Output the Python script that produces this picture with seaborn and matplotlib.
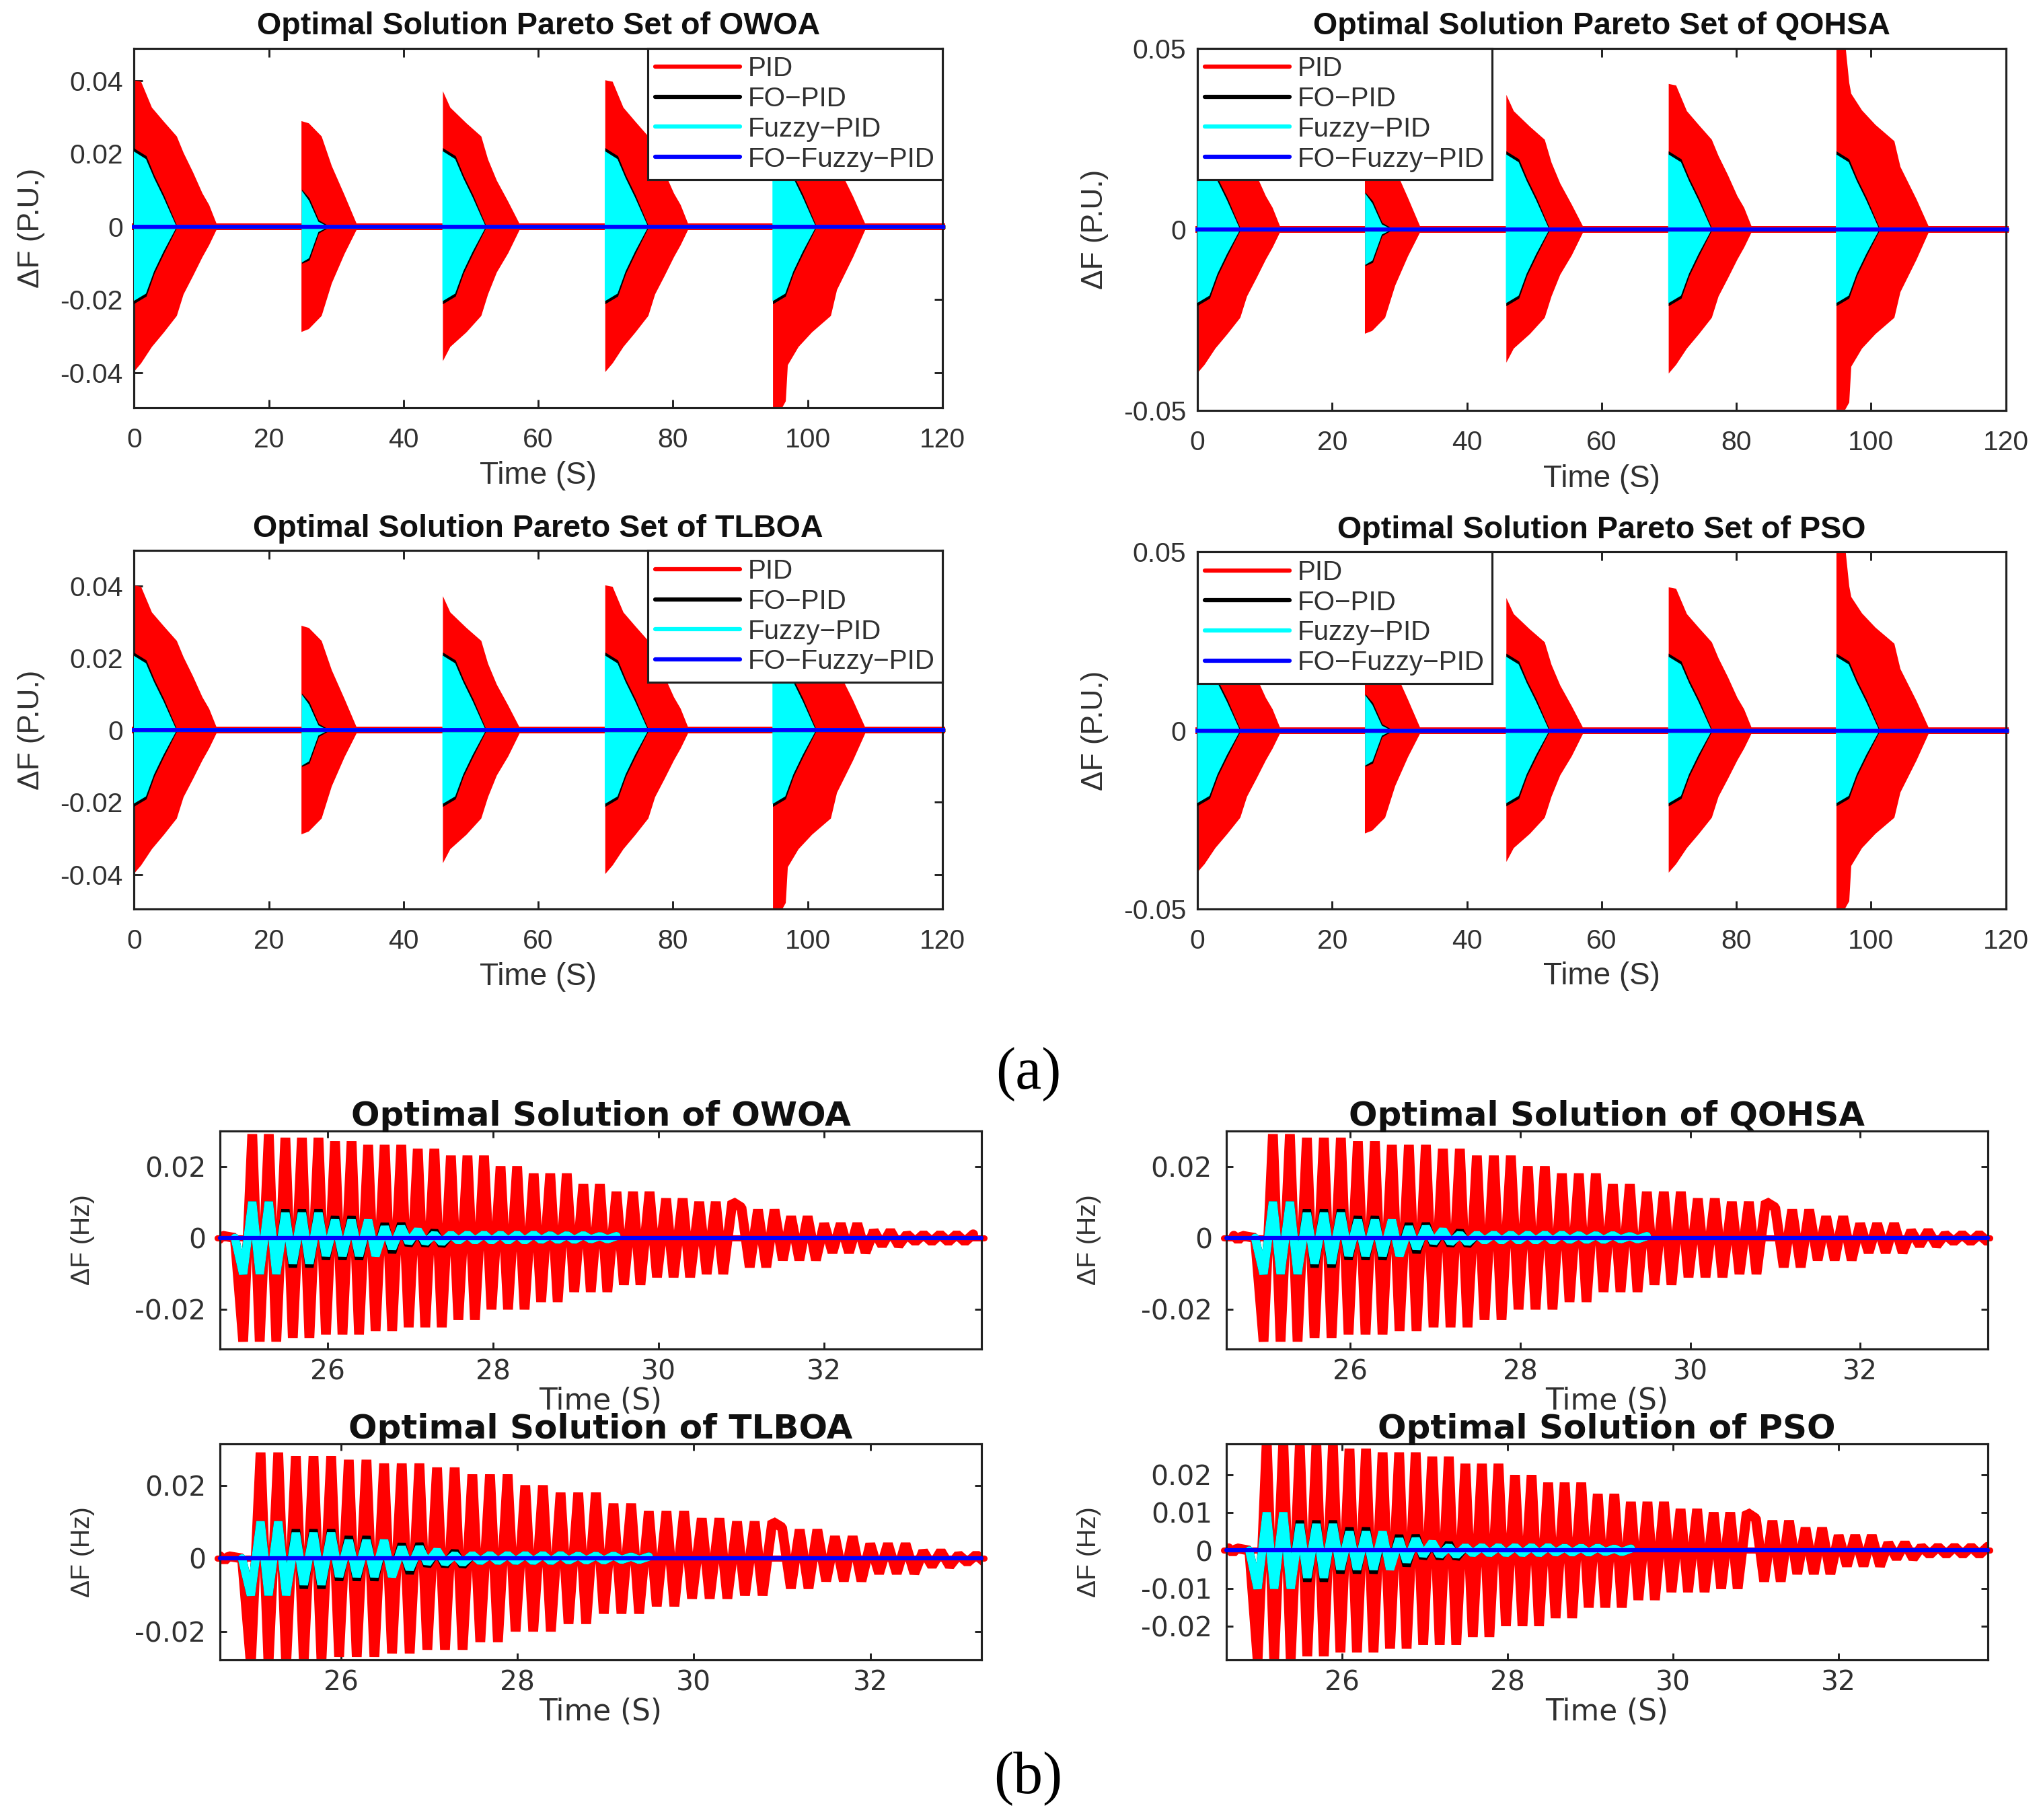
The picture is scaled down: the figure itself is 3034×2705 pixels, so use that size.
import numpy as np
import pandas as pd
import matplotlib
matplotlib.use('Agg')
import matplotlib.pyplot as plt
import seaborn as sns

# controllers
controllers = ['PID', 'FO\u2212PID', 'Fuzzy\u2212PID', 'FO\u2212Fuzzy\u2212PID']
ctrl_colors = ['#ff0000', '#000000', '#00ffff', '#0000ff']

# events in the Pareto panels, start times
event_starts = [-0.1, 24.8, 45.8, 69.9, 94.8]

# PID envelopes per event shape
pid_dt_a = [0, 1.1, 2.7, 4.5, 6.4, 7.4, 8.8, 10.2, 11.2, 12.4]
pid_hi_a = [.0402, .0398, .0327, .0288, .0248, .0203, .015, .0092, .006, .0004]
pid_lo_a = [-.0398, -.0374, -.0329, -.0289, -.0244, -.0185, -.0135, -.0083, -.005, -.0004]

pid_dt_b = [0, 1.1, 3.0, 4.5, 6.4, 8.3]
pid_hi_b = [.0290, .0284, .0248, .0167, .0087, .0004]
pid_lo_b = [-.0288, -.028, -.0244, -.0155, -.0074, -.0004]

pid_dt_c = [0, 1.1, 3.5, 5.7, 6.7, 8.0, 9.7, 11.5]
pid_hi_c = [.0372, .0327, .0284, .0248, .0185, .0127, .0069, .0004]
pid_lo_c = [-.0368, -.0329, -.0289, -.0244, -.0185, -.0125, -.0072, -.0004]

pid_dt_d = [0, 1.3, 1.9, 2.2, 3.8, 5.8, 8.6, 9.5, 11.9, 13.8]
pid_hi_d = [.0515, .0515, .0405, .0375, .0329, .0289, .0244, .0173, .0083, .0004]
pid_lo_d = [-.0498, -.0498, -.0478, -.0379, -.0329, -.0289, -.0244, -.0173, -.0083, -.0004]

# FO-PID envelopes
fo_dt_big = [0, 1.9, 3.1, 4.5, 6.4]
fo_hi_big = [.0216, .0194, .014, .0087, .0004]
fo_lo_big = [-.0212, -.0191, -.0128, -.0074, -.0004]
fo_dt_small = [0.1, 1.2, 2.6, 4.0]
fo_hi_small = [.0102, .0078, .0018, .0003]
fo_lo_small = [-.0101, -.0092, -.0018, -.0003]

# Fuzzy-PID envelopes
fz_hi_big = [.0208, .0186, .0134, .0081, .0002]
fz_lo_big = [-.0204, -.0183, -.0122, -.0068, -.0002]
fz_hi_small = [.0100, .0072, .0014, .0001]
fz_lo_small = [-.0098, -.0086, -.0014, -.0001]

# Peaks and troughs of the response after the 25 s step
pid_peak_t = [24.63, 24.73, 25.09, 25.29, 25.49, 25.69, 25.89, 26.09, 26.29, 26.49, 26.69, 26.89,
              27.09, 27.29, 27.49, 27.69, 27.89, 28.09, 28.29, 28.49, 28.69, 28.89,
              29.09, 29.29, 29.49, 29.69, 29.89, 30.09, 30.29, 30.49, 30.69, 30.89,
              31.0, 31.2, 31.4, 31.6, 31.8, 32.0, 32.2, 32.4, 32.6, 32.8, 33.0, 33.2, 33.4, 33.6, 33.8]
pid_peak_v = [.0006, .0006, .029, .029, .028, .028, .028, .027, .027, .026, .026, .026,
              .0249, .0249, .023, .023, .023, .02, .02, .018, .018, .018,
              .015, .015, .0129, .0129, .0129, .011, .011, .0101, .0101, .0101,
              .0085, .0079, .0079, .006, .006, .004, .004, .004, .002, .002, .001, .001, .001, .001, .001]
pid_trough_t = [24.68, 24.88, 24.98, 25.18, 25.38, 25.58, 25.78, 25.98, 26.18, 26.38, 26.58, 26.78,
                26.98, 27.18, 27.38, 27.58, 27.78, 27.98, 28.18, 28.38, 28.58, 28.78,
                28.98, 29.18, 29.38, 29.58, 29.78, 29.98, 30.18, 30.38, 30.58, 30.78,
                31.1, 31.3, 31.5, 31.7, 31.9, 32.1, 32.3, 32.5, 32.7, 32.9, 33.1, 33.3, 33.5, 33.7]
pid_trough_v = [-.0006, 0.0, -.029, -.029, -.029, -.028, -.028, -.027, -.027, -.027, -.026, -.026,
                -.025, -.025, -.025, -.0229, -.0229, -.02, -.02, -.02, -.0179, -.0179,
                -.0151, -.0151, -.0151, -.0131, -.0131, -.011, -.011, -.011, -.0101, -.0101,
                -.0082, -.0082, -.0062, -.0062, -.0062, -.0041, -.0041, -.0041, -.0021, -.0021,
                -.0011, -.0011, -.0011, -.0011]

# FO-PID and Fuzzy-PID peaks share the first times of the PID ones
small_peak_t = [25.09, 25.29, 25.49, 25.69, 25.89, 26.09, 26.29, 26.49, 26.69, 26.89,
                27.09, 27.29, 27.49, 27.69, 27.89, 28.09, 28.29, 28.49, 28.69, 28.89, 29.09, 29.29, 29.49]
small_trough_t = [24.88, 24.98, 25.18, 25.38, 25.58, 25.78, 25.98, 26.18, 26.38, 26.58, 26.78,
                  26.98, 27.18, 27.38, 27.58, 27.78, 27.98, 28.18, 28.38, 28.58, 28.78, 28.98, 29.18, 29.38]
fo_peak_v = [.0101, .0101, .0079, .0079, .0079, .006, .006, .005, .004, .004, .0022, .0019,
             .001, .001, .001, .001, .001, .001, .0008, .0008, .0008, .0005, .0005]
fo_trough_v = [0.0, -.0101, -.0101, -.0101, -.0082, -.0082, -.006, -.006, -.006, -.005, -.0041,
               -.002, -.002, -.002, -.0008, -.0008, -.0008, -.0008, -.0008, -.0006, -.0006, -.0006, -.0004, -.0004]
fz_peak_v = [.0101, .0101, .007, .007, .007, .005, .005, .005, .0031, .0031, .0022, .001,
             .001, .001, .001, .001, .001, .001, .0008, .0008, .0008, .0005, .0005]
fz_trough_v = [0.0, -.0101, -.0101, -.0101, -.0072, -.0072, -.005, -.005, -.005, -.005, -.003,
               -.0013, -.0013, -.0013, -.0008, -.0008, -.0008, -.0008, -.0008, -.0006, -.0006, -.0006, -.0004, -.0004]

# panel titles, tick labels and limits
pareto_titles = ['OWOA', 'QOHSA', 'TLBOA', 'PSO']
zoom_titles = ['OWOA', 'QOHSA', 'TLBOA', 'PSO']
pareto_ylims = [(-.0496, .0489), (-.05, .05), (-.0495, .0497), (-.0495, .05)]
pareto_yticks_a = [-.04, -.02, 0, .02, .04]
pareto_yticks_b = [-.05, 0, .05]
zoom_xlims = [(24.7, 33.9), (24.54, 33.5), (24.63, 33.26), (24.6, 33.8)]
zoom_ylims = [(-.031, .0298), (-.031, .0298), (-.0278, .0314), (-.029, .0283)]
zoom_yticks = [[-.02, 0, .02], [-.02, 0, .02], [-.02, 0, .02], [-.02, -.01, 0, .01, .02]]
zoom_xticks = [26, 28, 30, 32]

W, H = 3034, 2705
DPI = 300
S = W / 1568.0
GREY = '#303030'

sns.set_theme(style='white')
plt.rcParams['font.family'] = ['Liberation Sans', 'DejaVu Sans']
plt.rcParams['axes.linewidth'] = 0.75
plt.rcParams['axes.edgecolor'] = '#202020'

fig = plt.figure(figsize=((W + .01) / DPI, (H + .01) / DPI), dpi=DPI)


def add_ax(left, right, top, bottom):
    # positions are read in the 1568 wide view of the picture
    return fig.add_axes([left * S / W, 1 - bottom * S / H, (right - left) * S / W, (bottom - top) * S / H])


def tick_label(v):
    return '0' if v == 0 else ('%.2f' % v)


def style_ax(ax, size, family, tlen, xpad, ypad):
    ax.tick_params(direction='in', top=True, right=True, bottom=True, left=True, length=tlen, width=.7,
                   color='#202020', labelsize=size, labelcolor=GREY)
    ax.tick_params(axis='x', pad=xpad)
    ax.tick_params(axis='y', pad=ypad)
    for lab in ax.get_xticklabels() + ax.get_yticklabels():
        lab.set_family(family)
    ax.grid(False)


def place_labels(ax, xlab_y, ylab_x):
    ax.xaxis.label.set_va('center')
    ax.yaxis.label.set_va('center')
    ax.xaxis.set_label_coords(.5, xlab_y)
    ax.yaxis.set_label_coords(ylab_x, .5)


def zero_lines(ax, x0, x1, widths):
    df = pd.DataFrame({'t': [x0, x1] * 4,
                       'v': [0.0] * 8,
                       'ctrl': [c for c in controllers for _ in range(2)]})
    sns.lineplot(data=df, x='t', y='v', hue='ctrl', hue_order=controllers, palette=ctrl_colors,
                 estimator=None, errorbar=None, ax=ax, legend=True)
    for line, lw, z in zip(ax.lines, widths, [1, 4, 4, 6]):
        line.set_linewidth(lw)
        line.set_zorder(z)
        line.set_solid_capstyle('butt')


shapes = [(pid_dt_a, pid_hi_a, pid_lo_a, fo_dt_big, fo_hi_big, fo_lo_big, fz_hi_big, fz_lo_big),
          (pid_dt_b, pid_hi_b, pid_lo_b, fo_dt_small, fo_hi_small, fo_lo_small, fz_hi_small, fz_lo_small),
          (pid_dt_c, pid_hi_c, pid_lo_c, fo_dt_big, fo_hi_big, fo_lo_big, fz_hi_big, fz_lo_big),
          (pid_dt_a, pid_hi_a, pid_lo_a, fo_dt_big, fo_hi_big, fo_lo_big, fz_hi_big, fz_lo_big),
          (pid_dt_d, pid_hi_d, pid_lo_d, fo_dt_big, fo_hi_big, fo_lo_big, fz_hi_big, fz_lo_big)]

pareto_boxes = [(103, 724, 37, 313), (920, 1541, 37, 315), (103, 724, 423, 698), (920, 1541, 424, 698)]

for i, box in enumerate(pareto_boxes):
    ax = add_ax(*box)
    zero_lines(ax, -0.3, 120.4, [2.4, 1.3, 1.4, 1.4])
    for t0, sh in zip(event_starts, shapes):
        pt, phi, plo, ft, fhi, flo, zhi, zlo = sh
        ax.fill_between(np.array(pt) + t0, plo, phi, color=ctrl_colors[0], lw=0, zorder=2)
        ax.fill_between(np.array(ft) + t0, flo, fhi, color=ctrl_colors[1], lw=0, zorder=3)
        ax.fill_between(np.array(ft) + t0 - .08, zlo, zhi, color=ctrl_colors[2], lw=0, zorder=3.5)
    for line in ax.lines:
        line.set_clip_on(False)
    ax.set_xlim(0, 120)
    ax.set_ylim(*pareto_ylims[i])
    yt = pareto_yticks_a if i % 2 == 0 else pareto_yticks_b
    ax.set_xticks(range(0, 121, 20))
    ax.set_yticks(yt)
    ax.set_yticklabels([tick_label(v) for v in yt])
    style_ax(ax, 9.8, 'Liberation Sans', 3, 7, 4)
    ax.set_xlabel('Time (S)', fontsize=11, color=GREY)
    ax.set_ylabel('\u0394F (P.U.)', fontsize=10.6, color=GREY)
    place_labels(ax, -.19, -.127)
    ax.set_title('Optimal Solution Pareto Set of ' + pareto_titles[i], fontsize=11.2, fontweight='bold',
                 color='#101010', pad=5)
    leg = ax.legend(loc='upper right' if i % 2 == 0 else 'upper left', borderaxespad=0, fancybox=False,
                    framealpha=1, edgecolor='#202020', fontsize=9.7, handlelength=3.1, handletextpad=.3,
                    labelspacing=.17, borderpad=.28)
    leg.get_frame().set_linewidth(.75)
    leg.set_zorder(10)
    for txt in leg.get_texts():
        txt.set_color(GREY)

zoom_boxes = [(169, 754, 869, 1036), (942, 1527, 869, 1036), (169, 754, 1109, 1275), (942, 1527, 1109, 1275)]

# zigzag tables for the zoomed panels
pid_zig = pd.DataFrame({'t': pid_peak_t + pid_trough_t, 'v': pid_peak_v + pid_trough_v}).sort_values('t')
fo_zig = pd.DataFrame({'t': small_peak_t + small_trough_t, 'v': fo_peak_v + fo_trough_v}).sort_values('t')
fz_zig = pd.DataFrame({'t': small_peak_t + small_trough_t, 'v': fz_peak_v + fz_trough_v}).sort_values('t')

for i, box in enumerate(zoom_boxes):
    ax = add_ax(*box)
    x0, x1 = zoom_xlims[i]
    sns.lineplot(data=pid_zig, x='t', y='v', color=ctrl_colors[0], lw=3.5, estimator=None, errorbar=None,
                 solid_joinstyle='bevel', ax=ax, zorder=2)
    sns.lineplot(data=fo_zig, x='t', y='v', color=ctrl_colors[1], lw=3.0, estimator=None, errorbar=None,
                 solid_joinstyle='bevel', ax=ax, zorder=3)
    sns.lineplot(data=fz_zig, x='t', y='v', color=ctrl_colors[2], lw=3.0, estimator=None, errorbar=None,
                 solid_joinstyle='bevel', ax=ax, zorder=4)
    ax.plot([x0 - .03, x1 + .03], [0, 0], color=ctrl_colors[0], lw=2.2, clip_on=False, zorder=1, solid_capstyle='round')
    ax.plot([x0, x1], [0, 0], color=ctrl_colors[3], lw=1.5, clip_on=False, zorder=6)
    ax.set_xlim(x0, x1)
    ax.set_ylim(*zoom_ylims[i])
    ax.set_xticks(zoom_xticks)
    ax.set_yticks(zoom_yticks[i])
    ax.set_yticklabels([tick_label(v) for v in zoom_yticks[i]])
    style_ax(ax, 9.8, 'DejaVu Sans', 2.5, 3.5, 5)
    ax.set_xlabel('Time (S)', fontsize=10.5, color=GREY, family='DejaVu Sans')
    ax.set_ylabel('\u0394F (Hz)', fontsize=9.4, color=GREY)
    place_labels(ax, -.24, -.18)
    ax.set_title('Optimal Solution of ' + zoom_titles[i], fontsize=12, fontweight='bold', color='#101010',
                 pad=2, family='DejaVu Sans')

fig.text(790 * S / W, 1 - 825 * S / H, '(a)', ha='center', va='center', fontsize=21, family='Liberation Serif', color='black')
fig.text(790 * S / W, 1 - 1366 * S / H, '(b)', ha='center', va='center', fontsize=21, family='Liberation Serif', color='black')

fig.savefig('out.png', dpi=DPI, facecolor='white')
